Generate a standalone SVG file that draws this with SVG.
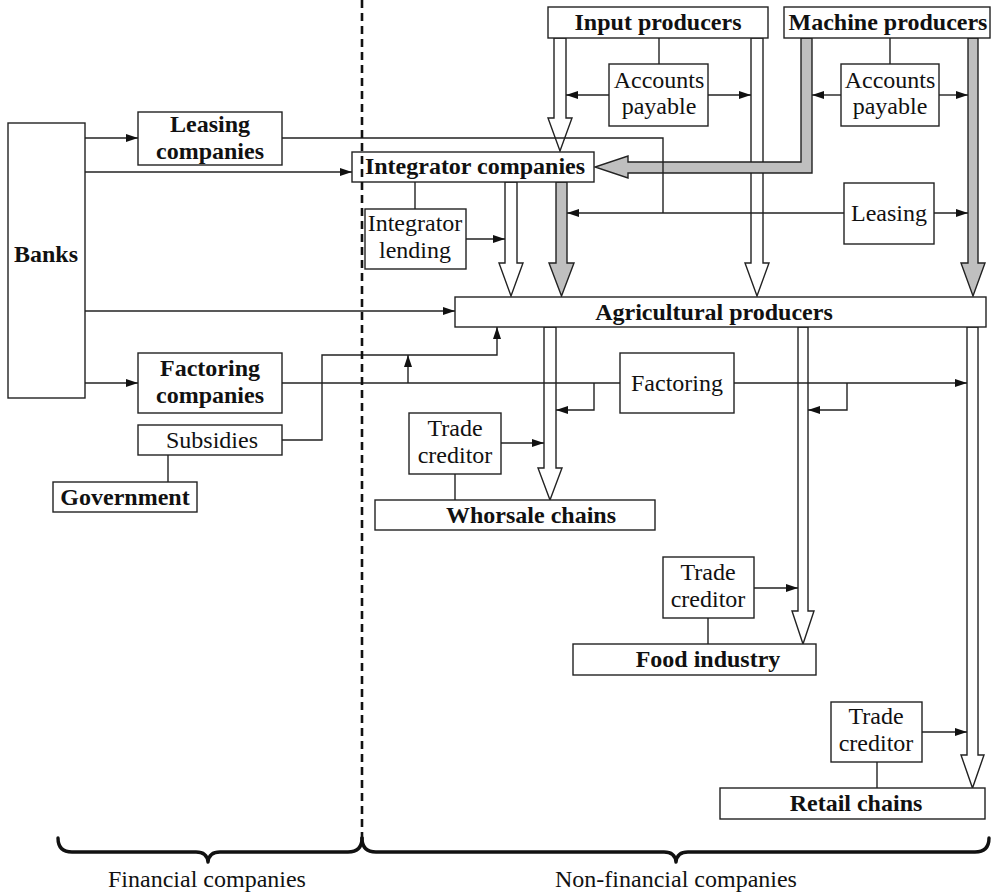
<svg xmlns="http://www.w3.org/2000/svg" width="993" height="894" viewBox="0 0 993 894">
<style>
.box{fill:#fff;stroke:#222;stroke-width:1.4}
.t{font-family:"Liberation Serif","Times New Roman",serif;font-size:24px;fill:#111;text-anchor:middle}
.b{font-weight:bold}
.ln{fill:none;stroke:#222;stroke-width:1.4}
.arr{marker-end:url(#ah)}
.wa{fill:#fff;stroke:#222;stroke-width:1.4;stroke-linejoin:miter}
.ga{fill:#bfbfbf;stroke:#222;stroke-width:1.4;stroke-linejoin:miter}
.dash{fill:none;stroke:#111;stroke-width:2.6;stroke-dasharray:8 5}
.brace{fill:none;stroke:#111;stroke-width:3.4;stroke-linejoin:round;stroke-linecap:round}
</style>
<defs>
<marker id="ah" markerUnits="userSpaceOnUse" markerWidth="12" markerHeight="8" refX="12" refY="4" orient="auto">
<path d="M0,0 L12,4 L0,8 Z" fill="#111"/>
</marker>
</defs>

<g id="block-arrows">
<path class="wa" d="M554,38 V118 H548 L560,151 L572,118 H566 V38 Z"/>
<path class="wa" d="M751,38 V263 H745 L757,296 L769,263 H763 V38 Z"/>
<path class="ga" d="M801,38 V162 H628 V156 L595,167 L628,178 V173 H812 V38 Z"/>
<path class="ga" d="M968,38 V263 H961 L973,296 L985,263 H978 V38 Z"/>
<path class="wa" d="M505,182 V263 H499 L511,296 L523,263 H517 V182 Z"/>
<path class="ga" d="M556,182 V263 H549 L561.5,296 L574,263 H567 V182 Z"/>
<path class="wa" d="M544,327 V468 H538 L550,500 L562,468 H556 V327 Z"/>
<path class="wa" d="M798,327 V611 H792 L803,644 L814,611 H808 V327 Z"/>
<path class="wa" d="M967,327 V755 H961 L972.5,788 L984,755 H978 V327 Z"/>
</g>

<g id="connectors">
<path class="ln" d="M659,38 V64"/>
<path class="ln arr" d="M609,95 H566"/>
<path class="ln arr" d="M708,95 H751"/>
<path class="ln" d="M890,38 V64"/>
<path class="ln arr" d="M841,95 H812"/>
<path class="ln arr" d="M939,95 H968"/>
<path class="ln arr" d="M85,138 H138"/>
<path class="ln" d="M282,138 H663 V213"/>
<path class="ln arr" d="M844,213 H567"/>
<path class="ln arr" d="M934,213 H968"/>
<path class="ln arr" d="M85,172 H352"/>
<path class="ln" d="M415,182 V209"/>
<path class="ln arr" d="M466,239 H505"/>
<path class="ln arr" d="M85,311 H455"/>
<path class="ln arr" d="M85,383 H138"/>
<path class="ln" d="M282,383 H620"/>
<path class="ln arr" d="M734,383 H967"/>
<path class="ln arr" d="M408,383 V355"/>
<path class="ln arr" d="M282,440 H322 V355 H497 V327"/>
<path class="ln arr" d="M594,383 V410 H556"/>
<path class="ln arr" d="M847,383 V410 H808"/>
<path class="ln" d="M168,455 V482"/>
<path class="ln arr" d="M501,443 H544"/>
<path class="ln" d="M455,474 V500"/>
<path class="ln arr" d="M754,588 H798"/>
<path class="ln" d="M708,618 V644"/>
<path class="ln arr" d="M922,732 H967"/>
<path class="ln" d="M877,762 V788"/>
</g>

<g id="input-producers"><rect class="box" x="548" y="7" width="220" height="31"/><text class="t b" x="658" y="30">Input producers</text></g>
<g id="machine-producers"><rect class="box" x="784" y="7" width="206" height="31"/><text class="t b" x="888" y="30">Machine producers</text></g>
<g id="accounts-payable-1"><rect class="box" x="609" y="64" width="99" height="62"/><text class="t" x="659" y="88">Accounts</text><text class="t" x="659" y="114">payable</text></g>
<g id="accounts-payable-2"><rect class="box" x="841" y="64" width="98" height="62"/><text class="t" x="890" y="88">Accounts</text><text class="t" x="890" y="114">payable</text></g>
<g id="banks"><rect class="box" x="8" y="123" width="77" height="275"/><text class="t b" x="46" y="262">Banks</text></g>
<g id="leasing-companies"><rect class="box" x="138" y="112" width="144" height="53"/><text class="t b" x="210" y="132">Leasing</text><text class="t b" x="210" y="159">companies</text></g>
<g id="integrator-companies"><rect class="box" x="352" y="152" width="242" height="30"/><text class="t b" x="475" y="174">Integrator companies</text></g>
<g id="integrator-lending"><rect class="box" x="365" y="209" width="101" height="60"/><text class="t" x="415" y="231">Integrator</text><text class="t" x="415" y="258">lending</text></g>
<g id="leasing"><rect class="box" x="844" y="183" width="90" height="61"/><text class="t" x="889" y="221">Leasing</text></g>
<g id="agricultural-producers"><rect class="box" x="455" y="297" width="531" height="30"/><text class="t b" x="714" y="320">Agricultural producers</text></g>
<g id="factoring-companies"><rect class="box" x="138" y="353" width="144" height="60"/><text class="t b" x="210" y="376">Factoring</text><text class="t b" x="210" y="403">companies</text></g>
<g id="subsidies"><rect class="box" x="138" y="425" width="144" height="30"/><text class="t" x="212" y="448">Subsidies</text></g>
<g id="government"><rect class="box" x="53" y="482" width="144" height="30"/><text class="t b" x="125" y="505">Government</text></g>
<g id="factoring"><rect class="box" x="620" y="353" width="114" height="60"/><text class="t" x="677" y="391">Factoring</text></g>
<g id="trade-creditor-1"><rect class="box" x="409" y="413" width="92" height="61"/><text class="t" x="455" y="436">Trade</text><text class="t" x="455" y="463">creditor</text></g>
<g id="whorsale-chains"><rect class="box" x="375" y="500" width="280" height="30"/><text class="t b" x="531" y="523">Whorsale chains</text></g>
<g id="trade-creditor-2"><rect class="box" x="663" y="557" width="91" height="61"/><text class="t" x="708" y="580">Trade</text><text class="t" x="708" y="607">creditor</text></g>
<g id="food-industry"><rect class="box" x="573" y="644" width="243" height="31"/><text class="t b" x="708" y="667">Food industry</text></g>
<g id="trade-creditor-3"><rect class="box" x="831" y="702" width="91" height="60"/><text class="t" x="876" y="724">Trade</text><text class="t" x="876" y="751">creditor</text></g>
<g id="retail-chains"><rect class="box" x="720" y="788" width="265" height="31"/><text class="t b" x="856" y="811">Retail chains</text></g>

<g id="divider">
<path class="dash" d="M362,0 V838"/>
</g>
<g id="braces">
<path class="brace" d="M58,838 Q58,852 72,852 H196 Q207,852 208,862 Q209,852 220,852 H348 Q362,852 362,838"/>
<path class="brace" d="M362,838 Q362,852 376,852 H664 Q675,852 676,862 Q677,852 688,852 H975 Q989,852 989,838"/>
<text class="t" x="207" y="887">Financial companies</text>
<text class="t" x="676" y="887">Non-financial companies</text>
</g>
</svg>
